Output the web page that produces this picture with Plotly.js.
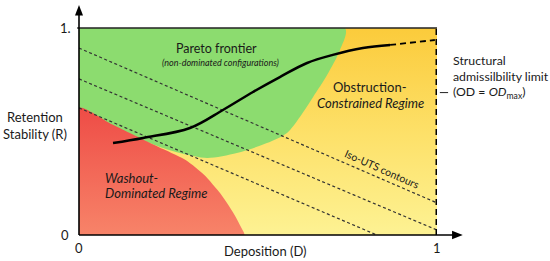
<!DOCTYPE html>
<html>
<head>
<meta charset="utf-8">
<script src="https://cdn.plot.ly/plotly-3.0.1.min.js"></script>
<style>html,body{margin:0;padding:0;background:#fff;}#chart{width:550px;height:261px;}</style>
</head>
<body>
<div id="chart"></div>
<script>
// ---- data ----
const xTickVals = [0, 1];
const xTickText = ['0', '1'];
const yTickVals = [0, 1];
const yTickText = ['0', '1.'];

// background (obstruction regime) rectangle
const bgX = [0, 1, 1, 0, 0];
const bgY = [0, 0, 1, 1, 0];

// Pareto / green region boundary
const greenX = [0, 0.743, 0.729, 0.693, 0.654, 0.617, 0.581, 0.525, 0.441, 0.358, 0.282, 0.235, 0.12, 0, 0];
const greenY = [1, 1, 0.894, 0.773, 0.667, 0.570, 0.493, 0.444, 0.396, 0.372, 0.396, 0.420, 0.50, 0.60, 1];

// Washout / red region boundary
const redX = [0, 0, 0.085, 0.170, 0.235, 0.300, 0.350, 0.395, 0.430, 0.458, 0.462, 0];
const redY = [0, 0.614, 0.541, 0.469, 0.415, 0.360, 0.290, 0.200, 0.110, 0.020, 0, 0];

// Iso-UTS contour lines
const isoA_X = [0, 1], isoA_Y = [0.903, 0.155];
const isoB_X = [0, 1], isoB_Y = [0.754, 0.024];
const isoC_X = [0, 0.832], isoC_Y = [0.614, 0];

// Pareto frontier curve
const paretoX = [0.095, 0.179, 0.310, 0.402, 0.486, 0.561, 0.637, 0.709, 0.793, 0.869];
const paretoY = [0.444, 0.469, 0.517, 0.604, 0.691, 0.763, 0.831, 0.870, 0.903, 0.918];
const paretoExtX = [0.869, 0.994];
const paretoExtY = [0.918, 0.942];

// structural limit
const limitX = [1, 1];
const limitY = [0, 1];

const limitLabel = ['Structural', 'admissilbility limit', '(OD = <i>OD</i><sub>max</sub>)'];

const FONT = 'Lato, "Open Sans", sans-serif';
const TXT = '#1a1a1a';

const traces = [
  {x: bgX, y: bgY, mode: 'lines', fill: 'toself', line: {width: 0, color: 'rgba(0,0,0,0)'},
   fillgradient: {type: 'vertical', colorscale: [[0, '#fdf293'], [0.5, '#fde068'], [1, '#fbcb3b']]},
   hoverinfo: 'skip', showlegend: false},
  {x: greenX, y: greenY, mode: 'lines', fill: 'toself', fillcolor: '#8cdc6f',
   line: {width: 0, color: 'rgba(0,0,0,0)', shape: 'spline', smoothing: 0.8}, hoverinfo: 'skip', showlegend: false},
  {x: redX, y: redY, mode: 'lines', fill: 'toself', line: {width: 0, color: 'rgba(0,0,0,0)', shape: 'spline', smoothing: 0.6},
   fillgradient: {type: 'vertical', colorscale: [[0, '#f8876b'], [1, '#ee4c46']]},
   hoverinfo: 'skip', showlegend: false},
  {x: isoA_X, y: isoA_Y, mode: 'lines', line: {color: '#333', width: 1.2, dash: '3px,2.5px'}, hoverinfo: 'skip', showlegend: false},
  {x: isoB_X, y: isoB_Y, mode: 'lines', line: {color: '#333', width: 1.2, dash: '3px,2.5px'}, hoverinfo: 'skip', showlegend: false},
  {x: isoC_X, y: isoC_Y, mode: 'lines', line: {color: '#333', width: 1.2, dash: '3px,2.5px'}, hoverinfo: 'skip', showlegend: false},
  {x: paretoX, y: paretoY, mode: 'lines', line: {color: '#000', width: 2.5, shape: 'spline', smoothing: 1}, hoverinfo: 'skip', showlegend: false},
  {x: paretoExtX, y: paretoExtY, mode: 'lines', line: {color: '#000', width: 1.8, dash: '6px,4px'}, hoverinfo: 'skip', showlegend: false},
  {x: limitX, y: limitY, mode: 'lines', line: {color: '#000', width: 3, dash: '6px,4px'}, hoverinfo: 'skip', showlegend: false, cliponaxis: false}
];

const tickFont = {family: FONT, size: 13, color: TXT};
const ann = [
  // tick labels (built from the tick arrays)
  {xref: 'x', yref: 'paper', x: xTickVals[0], y: -0.063, yanchor: 'middle', text: xTickText[0], showarrow: false, font: tickFont},
  {xref: 'x', yref: 'paper', x: xTickVals[1], y: -0.063, yanchor: 'middle', text: xTickText[1], showarrow: false, font: tickFont},
  {xref: 'paper', yref: 'y', x: -0.022, y: yTickVals[0], xanchor: 'right', yanchor: 'middle', text: yTickText[0], showarrow: false, font: tickFont},
  {xref: 'paper', yref: 'y', x: -0.017, y: yTickVals[1], xanchor: 'right', yanchor: 'middle', text: yTickText[1], showarrow: false, font: tickFont},
  // region labels
  {xref: 'x', yref: 'y', x: 0.383, y: 0.903, text: 'Pareto frontier', showarrow: false, font: {family: FONT, size: 12.5, color: TXT}},
  {xref: 'x', yref: 'y', x: 0.394, y: 0.831, text: '<i>(non-dominated configurations)</i>', showarrow: false, font: {family: FONT, size: 9, color: TXT}},
  {xref: 'x', yref: 'y', x: 0.813, y: 0.715, text: 'Obstruction-', showarrow: false, font: {family: FONT, size: 13, color: TXT}},
  {xref: 'x', yref: 'y', x: 0.813, y: 0.638, text: '<i>Constrained Regime</i>', showarrow: false, font: {family: FONT, size: 13, color: TXT}},
  {xref: 'x', yref: 'y', x: 0.067, y: 0.275, xanchor: 'left', text: '<i>Washout-</i>', showarrow: false, font: {family: FONT, size: 13, color: TXT}},
  {xref: 'x', yref: 'y', x: 0.067, y: 0.203, xanchor: 'left', text: '<i>Dominated Regime</i>', showarrow: false, font: {family: FONT, size: 13, color: TXT}},
  {xref: 'x', yref: 'y', x: 0.846, y: 0.319, text: 'Iso-UTS contours', textangle: 24, showarrow: false, font: {family: FONT, size: 10.5, color: TXT}},
  // axis titles
  {xref: 'paper', yref: 'paper', x: 0.52, y: -0.075, yanchor: 'middle', text: 'Deposition (D)', showarrow: false, font: {family: FONT, size: 13, color: TXT}},
  {xref: 'paper', yref: 'paper', x: -0.123, y: 0.53, xanchor: 'center', yanchor: 'middle', text: 'Retention<br>Stability (R)', showarrow: false, font: {family: FONT, size: 13, color: TXT}},
  // structural limit label
  {xref: 'paper', yref: 'paper', x: 1.038, y: 0.845, xanchor: 'left', yanchor: 'middle', text: limitLabel[0], showarrow: false, font: {family: FONT, size: 12.3, color: TXT}},
  {xref: 'paper', yref: 'paper', x: 1.038, y: 0.768, xanchor: 'left', yanchor: 'middle', text: limitLabel[1], showarrow: false, font: {family: FONT, size: 12.3, color: TXT}},
  {xref: 'paper', yref: 'paper', x: 1.038, y: 0.688, xanchor: 'left', yanchor: 'middle', text: limitLabel[2], showarrow: false, font: {family: FONT, size: 12.3, color: TXT}}
];

const shapes = [
  // top border
  {type: 'line', xref: 'paper', yref: 'paper', x0: -0.005, x1: 1, y0: 1, y1: 1, line: {color: '#222', width: 1.5}},
  // y axis line + arrowhead
  {type: 'line', xref: 'paper', yref: 'paper', x0: 0, x1: 0, y0: 0, y1: 1.07, line: {color: '#000', width: 1.6}},
  {type: 'path', xref: 'paper', yref: 'paper', path: 'M -0.0112 1.06 L 0 1.111 L 0.0112 1.06 Z', fillcolor: '#000', line: {width: 0}},
  // x axis line + arrowhead
  {type: 'line', xref: 'paper', yref: 'paper', x0: 0, x1: 1.05, y0: 0, y1: 0, line: {color: '#000', width: 1.6}},
  {type: 'path', xref: 'paper', yref: 'paper', path: 'M 1.042 -0.021 L 1.072 0 L 1.042 0.021 Z', fillcolor: '#000', line: {width: 0}},
  // leader tick for limit label
  {type: 'line', xref: 'paper', yref: 'paper', x0: 1.008, x1: 1.031, y0: 0.688, y1: 0.688, line: {color: '#222', width: 1}}
];

const layout = {
  width: 550, height: 261,
  margin: {l: 79, r: 113, t: 28, b: 26, pad: 0},
  paper_bgcolor: '#fff', plot_bgcolor: '#fff',
  font: {family: FONT, color: TXT},
  xaxis: {range: [0, 1], showgrid: false, zeroline: false, showline: false, showticklabels: false,
          ticks: '', fixedrange: true},
  yaxis: {range: [0, 1], showgrid: false, zeroline: false, showline: false, showticklabels: false,
          ticks: '', fixedrange: true},
  annotations: ann,
  shapes: shapes,
  showlegend: false
};

Plotly.newPlot('chart', traces, layout, {staticPlot: true, displayModeBar: false});
</script>
</body>
</html>
